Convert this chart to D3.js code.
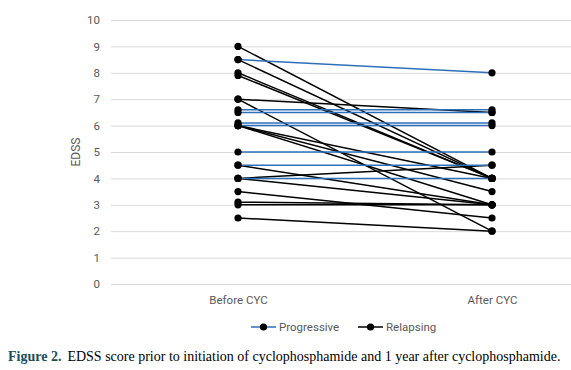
<!DOCTYPE html>
<html>
<head>
<meta charset="utf-8">
<script src="https://cdn.jsdelivr.net/npm/d3@7"></script>
<style>
  html, body { margin: 0; padding: 0; background: #fff; }
  svg { display: block; }
</style>
</head>
<body>
<svg id="chart" width="571" height="370"></svg>
<script>
// ---- data ----
const categories = ["Before CYC", "After CYC"];
const yTicks = [0, 1, 2, 3, 4, 5, 6, 7, 8, 9, 10];
const seriesNames = ["Progressive", "Relapsing"];
const progressiveBefore = [8.5, 6.6, 6.5, 6.1, 6.0, 5, 4.5, 4];
const progressiveAfter  = [8.0, 6.6, 6.5, 6.1, 6.0, 5, 4.5, 4];
const relapsingBefore = [9, 8.5, 8, 7.9, 7, 7, 6, 6, 6, 4.5, 4, 4, 3.5, 3.1, 3, 2.5];
const relapsingAfter  = [4, 4, 4, 4, 6.5, 2, 4, 3.5, 3, 3, 4.5, 3, 2.5, 3, 3, 2];
const captionLabel = "Figure 2.";
const captionText = "EDSS score prior to initiation of cyclophosphamide and 1 year after cyclophosphamide.";

const colors = { Progressive: "#2e6fba", Relapsing: "#000000" };

const svg = d3.select("#chart");
const W = 571;
const plotLeft = 111, plotRight = 619; // plot area extends beyond crop
const x = d3.scalePoint().domain(categories).range([plotLeft, plotRight]).padding(0.5);
const y = d3.scaleLinear().domain([0, 10]).range([284, 20]);

// gridlines + y labels
const yAxis = d3.axisLeft(y).tickValues(yTicks).tickSize(-(W - plotLeft)).tickPadding(11).tickFormat(d3.format("d"));
const gy = svg.append("g").attr("transform", `translate(${plotLeft},0)`).call(yAxis);
gy.select(".domain").remove();
gy.selectAll(".tick line").attr("stroke", "#d9d9d9").attr("stroke-width", 1);
gy.selectAll(".tick text").attr("fill", "#595959").attr("font-family", "Roboto, 'Liberation Sans', sans-serif").attr("font-size", 11.5);

// x labels
const xAxis = d3.axisBottom(x).tickSize(0).tickPadding(12);
const gx = svg.append("g").attr("transform", `translate(0,284)`).call(xAxis);
gx.select(".domain").remove();
gx.selectAll(".tick text").attr("fill", "#595959").attr("font-family", "Roboto, 'Liberation Sans', sans-serif").attr("font-size", 11.5);

// y title
svg.append("text")
  .attr("transform", `translate(80,${y(5)}) rotate(-90)`)
  .attr("text-anchor", "middle")
  .attr("fill", "#595959")
  .attr("font-family", "Roboto, 'Liberation Sans', sans-serif")
  .attr("font-size", 12)
  .text("EDSS");

// build pairs
const relapsing = relapsingBefore.map((b, i) => ({ s: "Relapsing", v: [b, relapsingAfter[i]] }));
const progressive = progressiveBefore.map((b, i) => ({ s: "Progressive", v: [b, progressiveAfter[i]] }));
const all = relapsing.concat(progressive);

const line = d3.line().x((d, i) => x(categories[i])).y(d => y(d));

const gLines = svg.append("g");
all.forEach(p => {
  gLines.append("path")
    .attr("d", line(p.v))
    .attr("fill", "none")
    .attr("stroke", colors[p.s])
    .attr("stroke-width", 1.5);
});
const gDots = svg.append("g");
all.forEach(p => {
  p.v.forEach((v, i) => {
    gDots.append("circle")
      .attr("cx", x(categories[i]))
      .attr("cy", y(v))
      .attr("r", 3.6)
      .attr("fill", "#000");
  });
});

// legend
const legend = svg.append("g");
const legendItems = [
  { name: seriesNames[0], x0: 251 },
  { name: seriesNames[1], x0: 358 }
];
legendItems.forEach(it => {
  const g = legend.append("g").attr("transform", `translate(${it.x0},327)`);
  g.append("line").attr("x1", 0).attr("x2", 25).attr("y1", 0).attr("y2", 0)
    .attr("stroke", colors[it.name]).attr("stroke-width", 1.5);
  g.append("circle").attr("cx", 12.5).attr("cy", 0).attr("r", 3.6).attr("fill", "#000");
  g.append("text").attr("x", 28).attr("y", 4).attr("fill", "#595959")
    .attr("font-family", "Roboto, 'Liberation Sans', sans-serif").attr("font-size", 11.5)
    .text(it.name);
});

// caption
const cap = svg.append("text")
  .attr("x", 8).attr("y", 361)
  .attr("font-family", "'Liberation Serif', 'Times New Roman', serif")
  .attr("font-size", 14)
  .attr("fill", "#000");
cap.append("tspan").attr("font-weight", "bold").attr("fill", "#1d4e5a").text(captionLabel);
cap.append("tspan").attr("dx", 6).text(captionText);
</script>
</body>
</html>
